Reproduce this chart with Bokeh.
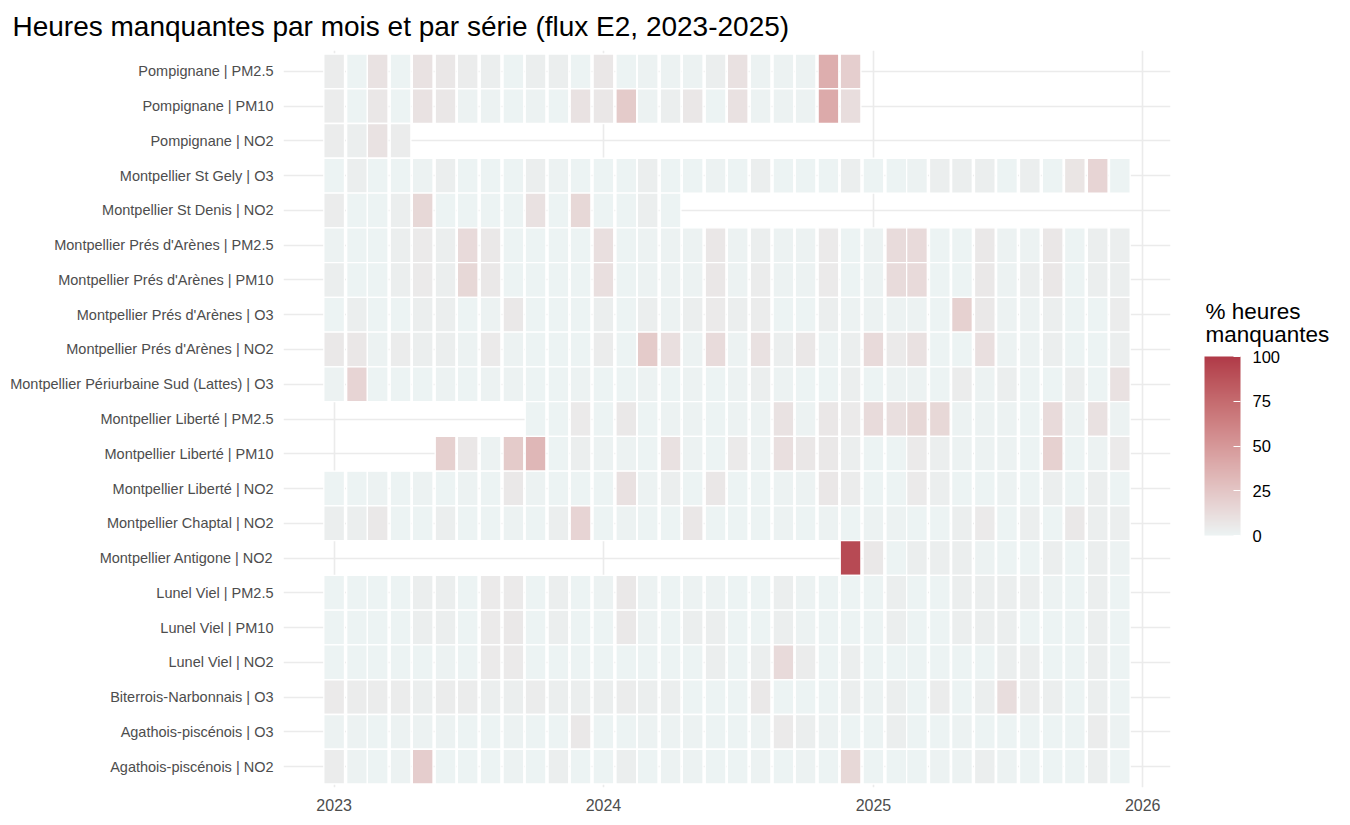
import datetime as dt
import numpy as np
from bokeh.plotting import figure
from bokeh.layouts import row
from bokeh.models import (ColumnDataSource, LinearColorMapper, ColorBar, FixedTicker,
                          Range1d, DatetimeTickFormatter, Label)
from bokeh.embed import file_html
from bokeh.resources import INLINE

# ---------------- data ----------------
N = None
years = [2023, 2024, 2025]
months = [dt.datetime(y, m, 1) for y in years for m in range(1, 13)]

series_labels = [
    "Pompignane | PM2.5",
    "Pompignane | PM10",
    "Pompignane | NO2",
    "Montpellier St Gely | O3",
    "Montpellier St Denis | NO2",
    "Montpellier Prés d'Arènes | PM2.5",
    "Montpellier Prés d'Arènes | PM10",
    "Montpellier Prés d'Arènes | O3",
    "Montpellier Prés d'Arènes | NO2",
    "Montpellier Périurbaine Sud (Lattes) | O3",
    "Montpellier Liberté | PM2.5",
    "Montpellier Liberté | PM10",
    "Montpellier Liberté | NO2",
    "Montpellier Chaptal | NO2",
    "Montpellier Antigone | NO2",
    "Lunel Viel | PM2.5",
    "Lunel Viel | PM10",
    "Lunel Viel | NO2",
    "Biterrois-Narbonnais | O3",
    "Agathois-piscénois | O3",
    "Agathois-piscénois | NO2",
]

pompignane_pm25 = [4, 0, 9, 0, 9, 7, 4, 3, 0, 3, 3, 0,
                   7, 0, 1, 1, 1, 3, 10, 1, 1, 1, 38, 20,
                   N, N, N, N, N, N, N, N, N, N, N, N]
pompignane_pm10 = [4, 0, 7, 0, 9, 7, 1, 1, 0, 1, 0, 9,
                   7, 22, 1, 3, 7, 0, 10, 1, 1, 1, 40, 12,
                   N, N, N, N, N, N, N, N, N, N, N, N]
pompignane_no2 = [4, 3, 9, 4, N, N, N, N, N, N, N, N,
                  N, N, N, N, N, N, N, N, N, N, N, N,
                  N, N, N, N, N, N, N, N, N, N, N, N]
stgely_o3 = [0, 3, 0, 0, 1, 3, 0, 0, 0, 3, 1, 0,
             0, 0, 3, 0, 0, 1, 0, 3, 0, 0, 0, 3,
             0, 0, 1, 3, 3, 3, 0, 3, 0, 8, 17, 0]
stdenis_no2 = [4, 0, 0, 3, 15, 0, 0, 0, 0, 10, 0, 15,
               0, 0, 3, 0, N, N, N, N, N, N, N, N,
               N, N, N, N, N, N, N, N, N, N, N, N]
pres_pm25 = [1, 0, 0, 3, 5, 3, 14, 6, 0, 0, 0, 0,
             11, 0, 1, 1, 1, 7, 1, 3, 1, 1, 5, 0,
             1, 13, 14, 0, 0, 6, 1, 1, 7, 0, 3, 3]
pres_pm10 = [3, 0, 0, 3, 5, 3, 15, 6, 0, 0, 0, 0,
             11, 0, 1, 1, 1, 7, 1, 4, 1, 1, 5, 0,
             1, 13, 14, 0, 0, 6, 1, 3, 7, 0, 3, 3]
pres_o3 = [0, 3, 0, 0, 3, 3, 0, 1, 6, 0, 0, 0,
           3, 0, 3, 1, 3, 5, 3, 4, 0, 0, 3, 1,
           1, 1, 1, 0, 19, 6, 1, 1, 3, 0, 0, 4]
pres_no2 = [6, 7, 1, 4, 3, 3, 1, 5, 1, 0, 0, 0,
            4, 0, 22, 11, 1, 13, 1, 10, 3, 7, 1, 3,
            14, 5, 10, 0, 0, 11, 1, 1, 3, 0, 0, 3]
lattes_o3 = [1, 17, 0, 0, 0, 1, 0, 1, 1, 0, 0, 1,
             0, 0, 1, 0, 1, 0, 1, 3, 1, 0, 0, 3,
             0, 1, 1, 0, 4, 1, 3, 0, 0, 3, 0, 10]
liberte_pm25 = [N, N, N, N, N, N, N, N, N, 0, 0, 5,
                0, 6, 0, 1, 1, 0, 1, 1, 9, 1, 7, 5,
                13, 11, 15, 15, 1, 1, 1, 0, 14, 1, 10, 1]
liberte_pm10 = [N, N, N, N, N, 19, 7, 1, 22, 33, 0, 3,
                1, 1, 0, 10, 1, 0, 5, 1, 11, 7, 6, 3,
                0, 0, 5, 3, 1, 1, 1, 0, 19, 0, 1, 5]
liberte_no2 = [0, 0, 1, 0, 1, 0, 1, 0, 6, 1, 0, 0,
               0, 10, 1, 3, 0, 7, 0, 0, 1, 1, 7, 4,
               0, 0, 5, 3, 0, 0, 1, 0, 3, 0, 3, 0]
chaptal_no2 = [3, 3, 6, 0, 0, 3, 0, 0, 1, 0, 3, 17,
               0, 1, 0, 0, 7, 0, 0, 0, 1, 0, 1, 0,
               1, 1, 0, 0, 3, 5, 0, 3, 0, 6, 3, 3]
antigone_no2 = [N, N, N, N, N, N, N, N, N, N, N, N,
                N, N, N, N, N, N, N, N, N, N, N, 92,
                6, 0, 3, 3, 3, 1, 0, 0, 3, 0, 3, 1]
lunel_pm25 = [0, 0, 0, 0, 3, 3, 0, 5, 5, 0, 3, 0,
              1, 6, 1, 0, 1, 1, 0, 0, 3, 1, 0, 0,
              0, 3, 0, 0, 3, 3, 3, 3, 1, 0, 3, 0]
lunel_pm10 = [0, 0, 0, 0, 3, 3, 0, 5, 6, 0, 3, 0,
              0, 6, 1, 0, 3, 3, 0, 0, 3, 1, 0, 0,
              0, 3, 0, 0, 3, 3, 3, 0, 0, 0, 3, 0]
lunel_no2 = [0, 0, 0, 0, 0, 1, 0, 5, 5, 0, 0, 0,
             0, 0, 0, 0, 0, 3, 0, 3, 14, 4, 0, 3,
             0, 0, 0, 0, 0, 0, 3, 3, 0, 0, 3, 0]
biterrois_o3 = [5, 4, 4, 4, 3, 4, 4, 3, 3, 4, 3, 3,
                3, 4, 3, 3, 0, 0, 0, 6, 0, 0, 0, 3,
                1, 3, 0, 4, 0, 3, 12, 4, 3, 0, 3, 0]
agathois_o3 = [1, 1, 0, 1, 1, 1, 0, 0, 1, 0, 0, 6,
               0, 0, 1, 1, 1, 0, 0, 1, 5, 3, 1, 0,
               0, 3, 0, 0, 1, 0, 0, 0, 0, 0, 4, 1]
agathois_no2 = [4, 1, 0, 1, 21, 0, 0, 0, 1, 0, 3, 0,
                0, 3, 0, 1, 1, 0, 0, 1, 0, 1, 0, 15,
                0, 0, 0, 1, 1, 3, 1, 0, 0, 0, 3, 0]

series_values = [pompignane_pm25, pompignane_pm10, pompignane_no2, stgely_o3,
                 stdenis_no2, pres_pm25, pres_pm10, pres_o3, pres_no2, lattes_o3,
                 liberte_pm25, liberte_pm10, liberte_no2, chaptal_no2, antigone_no2,
                 lunel_pm25, lunel_pm10, lunel_no2, biterrois_o3, agathois_o3,
                 agathois_no2]

year_ticks = [dt.datetime(y, 1, 1) for y in (2023, 2024, 2025, 2026)]
legend_ticks = [0, 25, 50, 75, 100]
legend_title_lines = ["% heures", "manquantes"]

# ---------------- colour scale (Lab interpolation) ----------------
def _hex_to_rgb(h):
    h = h.lstrip("#")
    return np.array([int(h[i:i + 2], 16) for i in (0, 2, 4)], dtype=float) / 255.0

def _rgb_to_lab(c):
    c = np.where(c <= 0.04045, c / 12.92, ((c + 0.055) / 1.055) ** 2.4)
    M = np.array([[0.4124, 0.3576, 0.1805], [0.2126, 0.7152, 0.0722], [0.0193, 0.1192, 0.9505]])
    xyz = M @ c / np.array([0.95047, 1.0, 1.08883])
    f = np.where(xyz > 0.008856, np.cbrt(xyz), 7.787 * xyz + 16 / 116)
    return np.array([116 * f[1] - 16, 500 * (f[0] - f[1]), 200 * (f[1] - f[2])])

def _lab_to_hex(lab):
    L, a, b = lab
    fy = (L + 16) / 116
    fx = fy + a / 500
    fz = fy - b / 200
    f = np.array([fx, fy, fz])
    xyz = np.where(f ** 3 > 0.008856, f ** 3, (f - 16 / 116) / 7.787) * np.array([0.95047, 1.0, 1.08883])
    Minv = np.array([[3.2406, -1.5372, -0.4986], [-0.9689, 1.8758, 0.0415], [0.0557, -0.2040, 1.0570]])
    c = Minv @ xyz
    c = np.where(c <= 0.0031308, 12.92 * c, 1.055 * np.clip(c, 0, None) ** (1 / 2.4) - 0.055)
    c = np.clip(np.round(c * 255), 0, 255).astype(int)
    return "#%02x%02x%02x" % tuple(c)

low_lab = _rgb_to_lab(_hex_to_rgb("#ECF3F3"))
high_lab = _rgb_to_lab(_hex_to_rgb("#B03A48"))
palette = [_lab_to_hex(low_lab + (high_lab - low_lab) * t) for t in np.linspace(0, 1, 256)]
mapper = LinearColorMapper(palette=palette, low=0, high=100)

# ---------------- tidy table ----------------
xs, ys, vals = [], [], []
n_series = len(series_labels)
for i, row_vals in enumerate(series_values):
    for m, v in zip(months, row_vals):
        if v is None:
            continue
        xs.append(m)
        ys.append(n_series - 1 - i)
        vals.append(v)
source = ColumnDataSource(dict(x=xs, y=ys, v=vals))

DAY = 86400000.0
def ms(d):
    return (d - dt.datetime(1970, 1, 1)).total_seconds() * 1000.0

x_lo = ms(min(months)) - 14 * DAY
x_hi = ms(max(months)) + 14 * DAY
pad = 0.05 * (x_hi - x_lo)

# ---------------- main figure ----------------
FONT = "Liberation Sans"
W_MAIN, W_LEG, H = 1190, 144, 818
FRAME_L, FRAME_R, FRAME_T, FRAME_B = 283, 1170, 50, 787
p = figure(width=W_MAIN, height=H, x_axis_type="datetime",
           x_range=Range1d(x_lo - pad, x_hi + pad),
           y_range=Range1d(-0.6, n_series - 1 + 0.6),
           output_backend="svg", toolbar_location=None,
           min_border_left=FRAME_L, min_border_right=W_MAIN - FRAME_R,
           min_border_top=FRAME_T, min_border_bottom=H - FRAME_B)
p.outline_line_color = None
p.background_fill_color = "white"

p.title.text = "Heures manquantes par mois et par série (flux E2, 2023-2025)"
p.title.text_font = FONT
p.title.text_font_size = "28px"
p.title.text_font_style = "normal"
p.title.text_color = "black"
p.title.align = "left"
p.title.vertical_align = "bottom"
p.title.offset = 12 - FRAME_L
p.title.standoff = 17

p.rect(x="x", y="y", width=28 * DAY, height=1, source=source,
       fill_color={"field": "v", "transform": mapper},
       line_color="white", line_width=1.3)

p.xaxis.ticker = FixedTicker(ticks=[ms(d) for d in year_ticks])
p.xaxis.formatter = DatetimeTickFormatter(years="%Y", months="%Y", days="%Y",
                                          hours="%Y", hourmin="%Y")
p.yaxis.ticker = FixedTicker(ticks=list(range(n_series)))
p.yaxis.major_label_overrides = {n_series - 1 - i: lab for i, lab in enumerate(series_labels)}
for ax in (p.xaxis, p.yaxis):
    ax.axis_line_color = None
    ax.major_tick_line_color = None
    ax.minor_tick_line_color = None
    ax.major_tick_out = 0
    ax.major_tick_in = 0
    ax.minor_tick_out = 0
    ax.major_label_text_font = FONT
    ax.major_label_text_color = "#4D4D4D"
p.yaxis.major_label_text_font_size = "14.5px"
p.xaxis.major_label_text_font_size = "16px"
p.yaxis.major_label_standoff = 10
p.xaxis.major_label_standoff = 11

p.xgrid.grid_line_color = "#EBEBEB"
p.ygrid.grid_line_color = "#EBEBEB"
p.xgrid.grid_line_width = 1.6
p.ygrid.grid_line_width = 1.6

# ---------------- legend panel ----------------
leg = figure(width=W_LEG, height=H, x_range=Range1d(0, W_LEG), y_range=Range1d(0, H),
             output_backend="svg", toolbar_location=None,
             x_axis_location=None, y_axis_location=None,
             min_border_left=0, min_border_right=0, min_border_top=0, min_border_bottom=0)
leg.outline_line_color = None
leg.xgrid.visible = False
leg.ygrid.visible = False

# legend frame sits ~30px above the canvas bottom (measured)
LEG_DY = 30
BAR_X, BAR_TOP, BAR_BOTTOM = 1204 - W_MAIN, 357, 536
cb = ColorBar(color_mapper=mapper, ticker=FixedTicker(ticks=legend_ticks),
              orientation="vertical", width=36, height=BAR_BOTTOM - BAR_TOP, padding=0,
              location=(BAR_X, H - BAR_BOTTOM - LEG_DY), title=None,
              major_label_text_font=FONT, major_label_text_font_size="16.5px",
              major_label_text_color="black", label_standoff=12,
              major_tick_line_color="white", major_tick_in=7, major_tick_out=0,
              minor_tick_line_color=None, bar_line_color=None,
              border_line_color=None, background_fill_alpha=0)
leg.add_layout(cb, "center")

for line, base in zip(legend_title_lines, (319, 342)):
    leg.add_layout(Label(x=BAR_X + 1, y=H - base - 23, x_units="screen", y_units="screen",
                         text=line, text_font=FONT, text_font_size="22.5px",
                         text_color="black", text_baseline="alphabetic", text_align="left"))

layout = row(p, leg, spacing=0)
open("out.html", "w").write(file_html(layout, INLINE))
